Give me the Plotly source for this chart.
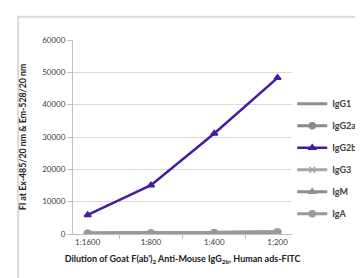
import plotly.graph_objects as go

categories = ["1:1600", "1:800", "1:400", "1:200"]
series_names = ["IgG1", "IgG2a", "IgG2b", "IgG3", "IgM", "IgA"]
igg1 = [300, 350, 450, 700]
igg2a = [250, 300, 400, 600]
igg2b = [5900, 15100, 31100, 48300]
igg3 = [200, 280, 380, 650]
igm = [150, 250, 350, 500]
iga = [180, 260, 330, 450]
y_ticks = [0, 10000, 20000, 30000, 40000, 50000, 60000]

values = [igg1, igg2a, igg2b, igg3, igm, iga]
colors = ["#8c8c8c", "#8a8a8a", "#4a1a9c", "#a6a6a6", "#8f8f8f", "#999999"]
symbols = ["line-ew-open", "circle", "triangle-up", "x-thin-open", "triangle-up", "circle"]

fig = go.Figure()
for name, vals, col, sym in zip(series_names, values, colors, symbols):
    is_main = name == "IgG2b"
    fig.add_trace(go.Scatter(
        x=categories, y=vals, name="<b>" + name + "</b>", mode="lines+markers",
        legendgroup=name,
        line=dict(color=col, width=2.5 if is_main else 3),
        marker=dict(color=col, symbol=sym, size=6,
                    line=dict(color=col, width=1.5)),
    ))

fig.update_layout(
    width=363, height=278,
    margin=dict(l=65, r=64, t=32, b=52),
    paper_bgcolor="white", plot_bgcolor="white",
    font=dict(family="Lato, Open Sans, sans-serif", size=8, color="#404040"),
    showlegend=True,
    legend=dict(xref="container", yref="container",
                x=0.783, y=0.708, xanchor="left", yanchor="top",
                font=dict(size=9, color="#404040", family="Lato, sans-serif"),
                bgcolor="rgba(0,0,0,0)", tracegroupgap=3, itemwidth=30,
                borderwidth=0),
    xaxis=dict(
        type="category", showline=True, linecolor="#bfbfbf", linewidth=1,
        automargin=False,
        ticks="outside", ticklen=4, tickcolor="#bfbfbf", tickson="boundaries",
        showgrid=False, tickfont=dict(size=8, color="#404040"),
        title=dict(text="<b>Dilution of Goat F(ab')<sub>2</sub> Anti-Mouse IgG<sub>2b</sub>, Human ads-FITC</b>",
                   font=dict(size=9, color="#202020"), standoff=10),
    ),
    yaxis=dict(
        range=[0, 60000], tickvals=y_ticks, tickformat="d",
        automargin=False,
        showline=True, linecolor="#bfbfbf", linewidth=1,
        ticks="outside", ticklen=5, tickcolor="#bfbfbf",
        showgrid=True, gridcolor="#d9d9d9", gridwidth=1, zeroline=False,
        tickfont=dict(size=8, color="#404040"),
        title=dict(text="<b>FI at Ex-485/20 nm & Em-528/20 nm</b>",
                   font=dict(size=8.8, color="#202020"), standoff=14),
    ),
    shapes=[dict(type="rect", xref="paper", yref="paper",
                 x0=-0.25, x1=2.0, y0=-1.0, y1=1.12,
                 line=dict(color="#d9d9d9", width=2), fillcolor="rgba(0,0,0,0)",
                 layer="below")],
)

fig.write_html("out.html")
